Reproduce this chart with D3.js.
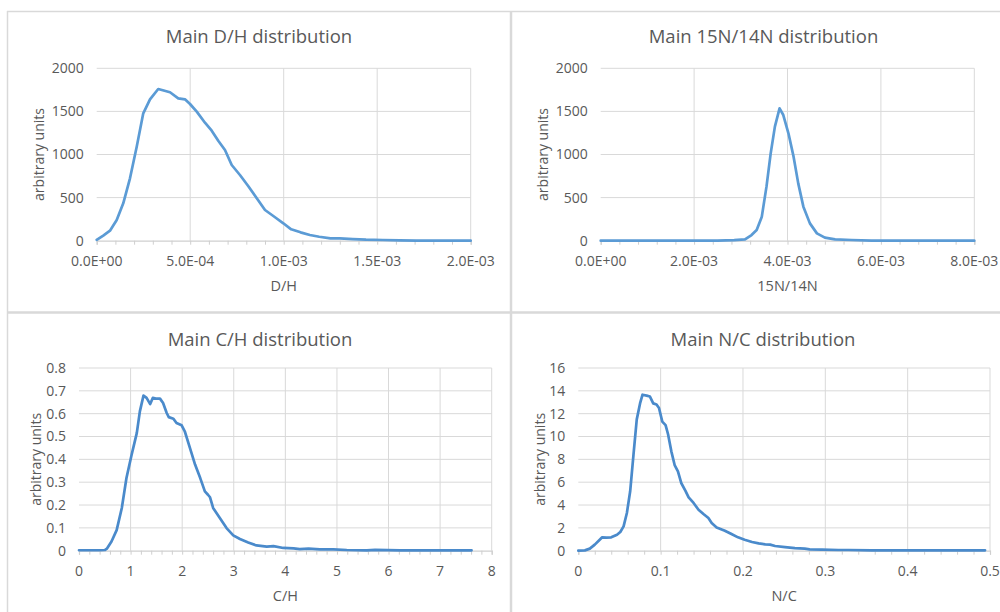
<!DOCTYPE html>
<html><head><meta charset="utf-8">
<script src="https://cdn.jsdelivr.net/npm/d3@7"></script>
<style>
html,body{margin:0;padding:0;background:#fff;}
svg{display:block;font-family:"Open Sans",sans-serif;}
</style></head>
<body>
<svg id="c" width="1000" height="612"></svg>
<script>
// ---- data ----
const dhX = [0,0.35,0.71,1.07,1.42,1.78,2.14,2.49,2.85,3.29,3.92,4.36,4.72,4.99,5.35,5.79,6.15,6.5,6.86,7.22,7.66,8.1,8.56,9.0,9.5,9.98,10.4,10.9,11.4,11.9,12.5,13.0,13.7,14.4,15.3,16.2,17.1,18,19,20].map(v=>v*1e-4);
const dhY = [10,60,116,240,434,724,1090,1478,1640,1760,1722,1652,1640,1586,1497,1369,1276,1160,1052,878,762,635,492,356,278,202,132,97,66,46,27,27,19,12,8,4,2,1,0,0];

const nX = [0,0.5,1.0,1.5,2.0,2.5,2.86,3.09,3.23,3.34,3.45,3.55,3.64,3.73,3.83,3.91,4.02,4.13,4.23,4.34,4.48,4.63,4.8,5.02,5.37,5.8,6.4,7.0,7.5,8.0].map(v=>v*1e-3);
const nY = [0,0,0,0,0,0,6,15,66,124,279,627,1013,1323,1536,1458,1246,975,665,395,201,85,35,15,8,2,0,0,0,0];

const chX = [0,0.2,0.4,0.5,0.54,0.63,0.73,0.83,0.92,1.02,1.12,1.18,1.25,1.31,1.38,1.43,1.49,1.57,1.63,1.7,1.74,1.83,1.89,1.99,2.05,2.15,2.25,2.35,2.44,2.5,2.54,2.6,2.73,2.86,2.99,3.12,3.28,3.44,3.64,3.77,3.96,4.16,4.28,4.45,4.67,4.93,5.19,5.58,5.74,6.22,6.87,7.61];
const chY = [0.002,0.002,0.002,0.003,0.009,0.04,0.09,0.187,0.318,0.42,0.515,0.61,0.679,0.669,0.642,0.669,0.666,0.666,0.647,0.603,0.585,0.578,0.559,0.549,0.523,0.45,0.377,0.318,0.26,0.245,0.234,0.187,0.143,0.099,0.067,0.051,0.036,0.023,0.018,0.02,0.012,0.01,0.007,0.009,0.006,0.006,0.003,0.0015,0.004,0.0015,0.0015,0.0015];

const ncX = [0,0.008,0.014,0.02,0.026,0.029,0.034,0.04,0.047,0.051,0.055,0.059,0.063,0.067,0.071,0.075,0.078,0.083,0.087,0.091,0.095,0.098,0.102,0.106,0.109,0.113,0.117,0.121,0.125,0.13,0.134,0.14,0.146,0.152,0.158,0.162,0.168,0.178,0.186,0.194,0.202,0.211,0.219,0.227,0.233,0.239,0.251,0.263,0.275,0.281,0.296,0.316,0.328,0.356,0.397,0.437,0.494];
const ncY = [0,0.03,0.18,0.53,0.96,1.17,1.14,1.17,1.4,1.64,2.13,3.3,5.2,8.4,11.5,12.9,13.66,13.58,13.5,12.9,12.8,12.5,11.3,11.0,10.2,8.7,7.5,6.95,5.93,5.26,4.67,4.18,3.59,3.21,2.86,2.42,2.04,1.75,1.46,1.17,0.96,0.76,0.64,0.55,0.53,0.41,0.32,0.23,0.18,0.12,0.09,0.06,0.06,0.03,0.03,0.03,0.03];

const titles = ["Main D/H distribution","Main 15N/14N distribution","Main C/H distribution","Main N/C distribution"];
const xTitles = ["D/H","15N/14N","C/H","N/C"];
const yTitle = "arbitrary units";
const dhXTicks = [0,0.0005,0.001,0.0015,0.002];
const nXTicks = [0,0.002,0.004,0.006,0.008];
const chXTicks = [0,1,2,3,4,5,6,7,8];
const ncXTicks = [0,0.1,0.2,0.3,0.4,0.5];
const isoYTicks = [0,500,1000,1500,2000];
const chYTicks = [0,0.1,0.2,0.3,0.4,0.5,0.6,0.7,0.8];
const ncYTicks = [0,2,4,6,8,10,12,14,16];

// ---- helpers ----
function sci(v){
  if(v===0) return "0.0E+00";
  let e = Math.floor(Math.log10(v)+1e-9);
  let m = v/Math.pow(10,e);
  m = Math.round(m*10)/10;
  if(m>=10){m/=10;e+=1;}
  const es = (e<0?"-":"+") + String(Math.abs(e)).padStart(2,"0");
  return m.toFixed(1)+"E"+es;
}
const svg = d3.select("#c");
const TXT = "#595959", GRID = "#d9d9d9";

// panel frame lines
const frame = svg.append("g").attr("stroke","#d9d9d9").attr("fill","none");
frame.append("line").attr("x1",7).attr("x2",1000).attr("y1",11.5).attr("y2",11.5).attr("stroke-width",1.5);
frame.append("line").attr("x1",7.5).attr("x2",7.5).attr("y1",11).attr("y2",612).attr("stroke-width",1.5);
frame.append("line").attr("x1",511).attr("x2",511).attr("y1",11).attr("y2",612).attr("stroke-width",2.5);
frame.append("line").attr("x1",7).attr("x2",1000).attr("y1",312.5).attr("y2",312.5).attr("stroke-width",2.5);

const panels = [
  {L:96.7,R:470.7,T:68.3,B:240.7,xd:[0,0.002],yd:[0,2000],xt:dhXTicks,yt:isoYTicks,xf:sci,yf:d=>String(d),xs:dhX,ys:dhY,cx:259,ty:37,ylx:39,col:"#5B9BD5"},
  {L:600.7,R:974.3,T:68.3,B:240.7,xd:[0,0.008],yd:[0,2000],xt:nXTicks,yt:isoYTicks,xf:sci,yf:d=>String(d),xs:nX,ys:nY,cx:763.5,ty:37,ylx:543,col:"#5B9BD5"},
  {L:79,R:491.7,T:368,B:550.7,xd:[0,8],yd:[0,0.8],xt:chXTicks,yt:chYTicks,xf:d=>String(d),yf:d=>String(d),xs:chX,ys:chY,cx:260,ty:339.5,ylx:36.5,col:"#4A8ACB"},
  {L:578.3,R:990,T:368,B:550.7,xd:[0,0.5],yd:[0,16],xt:ncXTicks,yt:ncYTicks,xf:d=>String(d),yf:d=>String(d),xs:ncX,ys:ncY,cx:763,ty:339.5,ylx:540,col:"#4A8ACB"}
];

panels.forEach((p,i)=>{
  const g = svg.append("g");
  const x = d3.scaleLinear().domain(p.xd).range([p.L,p.R]);
  const y = d3.scaleLinear().domain(p.yd).range([p.B,p.T]);
  // gridlines
  g.append("g").selectAll("line.h").data(p.yt.filter(d=>d!==0)).join("line")
    .attr("x1",p.L).attr("x2",p.R).attr("y1",d=>y(d)).attr("y2",d=>y(d))
    .attr("stroke",GRID).attr("stroke-width",1);
  g.append("g").selectAll("line.v").data(p.xt.filter(d=>d!==p.xd[0])).join("line")
    .attr("x1",d=>x(d)).attr("x2",d=>x(d)).attr("y1",p.T).attr("y2",p.B)
    .attr("stroke",GRID).attr("stroke-width",1);
  // x axis with minor ticks
  const step = p.xt[1]-p.xt[0];
  const minor = d3.range(0, Math.round((p.xd[1]-p.xd[0])/step*5)+1).map(k=>p.xd[0]+k*step/5);
  const ax = d3.axisBottom(x).tickValues(minor).tickSize(4).tickFormat("");
  const axg = g.append("g").attr("transform",`translate(0,${p.B})`).call(ax);
  axg.select(".domain").attr("stroke","#d0d0d0").attr("stroke-width",1.2);
  axg.selectAll(".tick line").attr("stroke","#cfcfcf");
  // x labels
  g.append("g").selectAll("text").data(p.xt).join("text")
    .attr("x",d=>x(d)).attr("y",p.B+20).attr("dy","0.35em")
    .attr("text-anchor","middle").attr("fill",TXT).attr("font-size",14)
    .text(p.xf);
  // y labels
  g.append("g").selectAll("text").data(p.yt).join("text")
    .attr("x",p.L-13).attr("y",d=>y(d)).attr("dy","0.35em")
    .attr("text-anchor","end").attr("fill",TXT).attr("font-size",14)
    .text(p.yf);
  // line
  const line = d3.line().x(d=>x(d[0])).y(d=>y(d[1]));
  g.append("path").datum(p.xs.map((v,k)=>[v,p.ys[k]]))
    .attr("d",line).attr("fill","none").attr("stroke",p.col)
    .attr("stroke-width",2.7).attr("stroke-linejoin","round").attr("stroke-linecap","round");
  // titles
  g.append("text").attr("x",p.cx).attr("y",p.ty).attr("dy","0.35em")
    .attr("text-anchor","middle").attr("fill",TXT).attr("font-size",18.5).text(titles[i]);
  g.append("text").attr("x",(p.L+p.R)/2).attr("y",p.B+45).attr("dy","0.35em")
    .attr("text-anchor","middle").attr("fill",TXT).attr("font-size",14.5).text(xTitles[i]);
  g.append("text").attr("transform",`translate(${p.ylx},${(p.T+p.B)/2}) rotate(-90)`)
    .attr("dy","0.35em").attr("text-anchor","middle").attr("fill",TXT).attr("font-size",14).text(yTitle);
});
</script>
</body></html>
